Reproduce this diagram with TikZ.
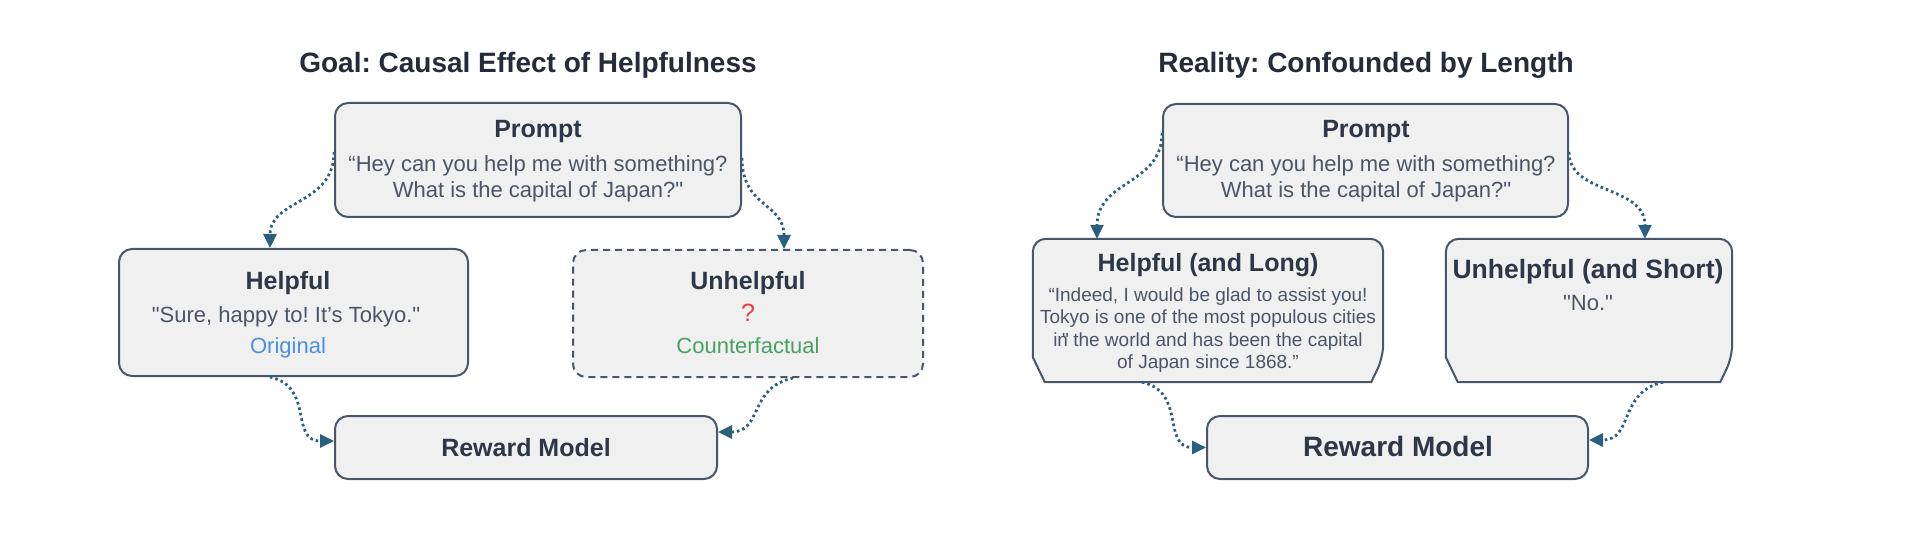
\documentclass[tikz,border=0pt]{standalone}
\usepackage{fontspec}
\setmainfont{Liberation Sans}
\usetikzlibrary{arrows.meta}
\definecolor{boxfill}{HTML}{F0F0F0}
\definecolor{boxline}{HTML}{4A5568}
\definecolor{headink}{HTML}{2D3748}
\definecolor{bodyink}{HTML}{4A5568}
\definecolor{flowblue}{HTML}{2C5F7F}
\definecolor{origblue}{HTML}{4A90E2}
\definecolor{cfgreen}{HTML}{48A163}
\definecolor{askred}{HTML}{E53E3E}
\frenchspacing

\begin{document}
\begin{tikzpicture}[x=1pt, y=-1pt,
  box/.style={draw=boxline, fill=boxfill, line width=2pt, rounded corners=13pt, inner sep=0pt},
  title/.style={anchor=base, text=headink!80!black, font=\bfseries\fontsize{28}{32}\selectfont},
  head/.style={anchor=base, text=headink, font=\bfseries\fontsize{25}{29}\selectfont},
  body/.style={anchor=base, text=bodyink, font=\fontsize{22}{26}\selectfont},
  small/.style={anchor=base, text=bodyink, font=\fontsize{19}{22}\selectfont},
  flow/.style={draw=flowblue, line width=2.8pt, dash pattern=on 2.6pt off 3pt, -{Triangle[length=14pt,width=13pt]}}]
\useasboundingbox (0,0) rectangle (1916,534);

% left panel: goal
\node[title] (goal) at (528,73) {Goal: Causal Effect of Helpfulness};
\node[box, minimum width=406pt, minimum height=114pt] (promptL) at (538,160) {};
\node[box, minimum width=349pt, minimum height=127pt] (helpL) at (293.5,312.5) {};
\node[box, dash pattern=on 7pt off 5pt, minimum width=350pt, minimum height=127pt] (unhelpL) at (748,313.5) {};
\node[box, minimum width=382pt, minimum height=63pt] (rewardL) at (526,447.5) {};

\node[head] (promptLhd) at (538,138) {Prompt};
\node[body] (promptLa) at (538,172) {“Hey can you help me with something?};
\node[body] (promptLb) at (538,198) {What is the capital of Japan?\textquotedbl};
\node[head] (helpLhd) at (288,290) {Helpful};
\node[body] (helpLtx) at (286,323) {\textquotedbl Sure, happy to! It’s Tokyo.\textquotedbl};
\node[body, text=origblue] (orig) at (288,353) {Original};
\node[head] (unhelpLhd) at (748,290) {Unhelpful};
\node[body, text=askred, font=\fontsize{25}{29}\selectfont] (ask) at (748,322) {?};
\node[body, text=cfgreen] (cfact) at (748,353) {Counterfactual};
\node[head] (rewardLtx) at (526,456) {Reward Model};

\draw[flow] ([yshift=8pt]promptL.west) .. controls +(0,53) and +(0,-49) .. ([xshift=-23.5pt]helpL.north);
\draw[flow] ([yshift=2pt]promptL.east) .. controls +(0,50) and +(0,-47) .. ([xshift=36pt]unhelpL.north);
\draw[flow] ([xshift=-23.5pt]helpL.south) .. controls +(45,10) and +(-45,0) .. ([yshift=6.5pt]rewardL.west);
\draw[flow] ([xshift=45pt]unhelpL.south) .. controls +(-45,10) and +(45,0) .. ([yshift=15.5pt]rewardL.east);

% right panel: reality
\node[title] (reality) at (1366,73) {Reality: Confounded by Length};
\node[box, minimum width=405pt, minimum height=113pt] (promptR) at (1365.5,160.5) {};
\node[minimum width=350pt, minimum height=143pt, inner sep=0pt] (helpR) at (1208,310.5) {};
\node[minimum width=286pt, minimum height=143pt, inner sep=0pt] (unhelpR) at (1589,310.5) {};
\node[box, minimum width=381pt, minimum height=63pt] (rewardR) at (1397.5,447.5) {};
\foreach \b in {helpR, unhelpR}
  \filldraw[draw=boxline, fill=boxfill, line width=2pt]
    ([xshift=12pt]\b.south west) -- ([yshift=25pt]\b.south west)
    {[rounded corners=13pt] -- (\b.north west) -- (\b.north east) -- ([yshift=25pt]\b.south east)}
    -- ([xshift=-12pt]\b.south east) -- cycle;

\node[head] (promptRhd) at (1366,138) {Prompt};
\node[body] (promptRa) at (1366,172) {“Hey can you help me with something?};
\node[body] (promptRb) at (1366,198) {What is the capital of Japan?\textquotedbl};
\node[head] (helpRhd) at (1208,272) {Helpful (and Long)};
\node[small] (longa) at (1208,302) {“Indeed, I would be glad to assist you!};
\node[small] (longb) at (1208,324) {Tokyo is one of the most populous cities};
\node[small] (longc) at (1208,347) {i\rlap{n}\kern0.25em\textquotedbl\kern-0.05em{} the world and has been the capital};
\node[small] (longd) at (1208,369) {of Japan since 1868.”};
\node[head, font=\bfseries\fontsize{26.5}{30}\selectfont] (unhelpRhd) at (1588,279) {Unhelpful (and Short)};
\node[body] (shorttx) at (1588,311) {\textquotedbl No.\textquotedbl};
\node[head, font=\bfseries\fontsize{28}{32}\selectfont] (rewardRtx) at (1398,456) {Reward Model};

\draw[flow] ([yshift=27.5pt]promptR.west) .. controls +(0,52) and +(0,-59) .. ([xshift=-111pt]helpR.north);
\draw[flow] ([yshift=8.5pt]promptR.east) .. controls +(0,43) and +(0,-54) .. ([xshift=56pt]unhelpR.north);
\draw[flow] ([xshift=-66pt]helpR.south) .. controls +(45,10) and +(-45,0) .. (rewardR.west);
\draw[flow] ([xshift=74pt]unhelpR.south) .. controls +(-45,10) and +(45,0) .. ([yshift=7.5pt]rewardR.east);
\end{tikzpicture}
\end{document}
